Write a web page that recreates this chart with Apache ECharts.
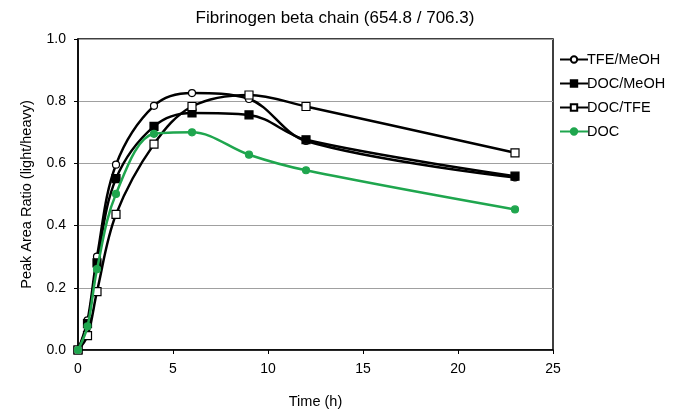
<!DOCTYPE html>
<html>
<head>
<meta charset="utf-8">
<script src="https://cdn.jsdelivr.net/npm/echarts@6/dist/echarts.min.js"></script>
<style>
  html, body { margin: 0; padding: 0; background: #fff; }
  #chart { width: 691px; height: 414px; }
</style>
</head>
<body>
<div id="chart"></div>
<script>
// time points (h)
var hours = [0, 0.5, 1, 2, 4, 6, 9, 12, 23];
var tfeMeoh = [0, 0.095, 0.30, 0.596, 0.785, 0.826, 0.807, 0.672, 0.555];
var docMeoh = [0, 0.085, 0.28, 0.551, 0.719, 0.762, 0.756, 0.676, 0.559];
var docTfe = [0, 0.046, 0.188, 0.436, 0.662, 0.783, 0.82, 0.783, 0.634];
var doc = [0, 0.076, 0.26, 0.502, 0.695, 0.70, 0.628, 0.578, 0.452];

function pairs(ys) {
  var out = [];
  for (var i = 0; i < hours.length; i++) {
    out.push([hours[i], ys[i]]);
  }
  return out;
}

var font = 'Liberation Sans, Arial, sans-serif';
var chart = echarts.init(document.getElementById('chart'));

function lineSeries(name, ys, color, symbol, fill) {
  return {
    name: name,
    type: 'line',
    data: pairs(ys),
    smooth: 0.35,
    symbol: symbol,
    symbolSize: symbol === 'circle' ? 7 : 8,
    lineStyle: { color: color, width: 2.5 },
    itemStyle: { color: fill, borderColor: color, borderWidth: 1.2 },
    emphasis: { disabled: true },
    z: name === 'DOC' ? 5 : 3
  };
}

var option = {
  animation: false,
  textStyle: { fontFamily: font },
  title: {
    text: 'Fibrinogen beta chain (654.8 / 706.3)',
    left: 330,
    textAlign: 'center',
    top: 5,
    textStyle: { fontFamily: font, fontSize: 17, fontWeight: 'normal', color: '#000' }
  },
  legend: {
    orient: 'vertical',
    left: 554,
    top: 47,
    itemWidth: 28,
    itemHeight: 8,
    itemGap: 9,
    textStyle: { fontFamily: font, fontSize: 14.5, color: '#000', padding: [0, 0, 0, -6] },
    data: ['TFE/MeOH', 'DOC/MeOH', 'DOC/TFE', 'DOC']
  },
  grid: {
    left: 78,
    right: 138,
    top: 39,
    bottom: 63,
    show: true,
    borderColor: '#000',
    borderWidth: 1.5
  },
  xAxis: {
    type: 'value',
    min: 0,
    max: 25,
    interval: 5,
    name: 'Time (h)',
    nameLocation: 'middle',
    nameGap: 44,
    nameTextStyle: { fontFamily: font, fontSize: 14.5, color: '#000' },
    axisLine: { lineStyle: { color: '#000', width: 1.5 } },
    axisTick: { show: true, length: 4, lineStyle: { color: '#000' } },
    axisLabel: { fontFamily: font, fontSize: 14, color: '#000', margin: 12 },
    splitLine: { show: false }
  },
  yAxis: {
    type: 'value',
    min: 0,
    max: 1,
    interval: 0.2,
    name: 'Peak Area Ratio (light/heavy)',
    nameLocation: 'middle',
    nameGap: 44,
    nameTextStyle: { fontFamily: font, fontSize: 14.5, color: '#000' },
    axisLine: { lineStyle: { color: '#000', width: 1.5 } },
    axisTick: { show: true, length: 4, lineStyle: { color: '#000' } },
    axisLabel: {
      fontFamily: font, fontSize: 14, color: '#000', margin: 12,
      formatter: function (v) { return v.toFixed(1); }
    },
    splitLine: { show: true, lineStyle: { color: '#a0a0a0', width: 1 } }
  },
  series: [
    lineSeries('TFE/MeOH', tfeMeoh, '#000', 'circle', '#fff'),
    lineSeries('DOC/MeOH', docMeoh, '#000', 'rect', '#000'),
    lineSeries('DOC/TFE', docTfe, '#000', 'rect', '#fff'),
    lineSeries('DOC', doc, '#1fa64e', 'circle', '#1fa64e')
  ]
};

chart.setOption(option);
</script>
</body>
</html>
